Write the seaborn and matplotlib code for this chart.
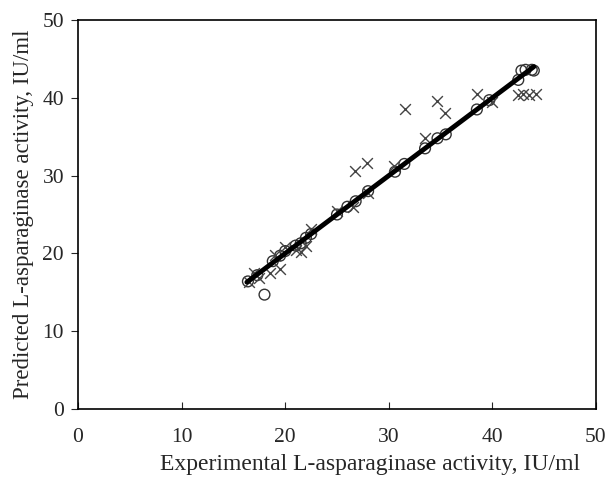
import numpy as np
import pandas as pd
import matplotlib.pyplot as plt
import seaborn as sns

# experimental vs predicted (circles: model 1, crosses: model 2)
circ_exp = [16.4, 17.3, 18.0, 18.8, 19.5, 20.0, 21.0, 21.5, 22.0, 22.5, 25.0, 26.0,
            26.8, 28.0, 30.6, 31.5, 33.5, 34.7, 35.5, 38.5, 39.7, 42.5, 42.8, 43.2,
            43.8, 44.0]
circ_pred = [16.4, 17.2, 14.7, 19.0, 19.7, 20.3, 21.0, 21.3, 22.0, 22.5, 25.0, 26.0,
             26.7, 28.0, 30.5, 31.5, 33.5, 34.8, 35.3, 38.5, 39.7, 42.3, 43.5, 43.6,
             43.6, 43.5]
cross_exp = [16.5, 17.0, 17.5, 18.5, 19.0, 19.5, 20.0, 21.0, 21.5, 22.0, 22.5, 25.0,
             26.5, 26.7, 27.9, 28.0, 30.5, 31.6, 33.5, 34.7, 35.4, 38.5, 40.0, 42.5,
             43.0, 43.5, 44.2]
cross_pred = [16.3, 17.5, 16.8, 17.5, 19.8, 18.0, 20.8, 20.5, 20.2, 21.0, 23.2, 25.5,
              26.0, 30.6, 31.6, 27.8, 31.2, 38.6, 34.8, 39.6, 38.0, 40.5, 39.5, 40.3,
              40.5, 40.4, 40.5]
line_x = [16.3, 44.0]

sns.set_style("ticks")
plt.rcParams['font.family'] = ['Liberation Serif', 'DejaVu Serif']

fig, ax = plt.subplots(figsize=(6.08, 4.8), dpi=100)

sns.lineplot(x=line_x, y=line_x, ax=ax, color="black", linewidth=3.5)
sns.scatterplot(x=circ_exp, y=circ_pred, ax=ax, marker="o", s=60,
                facecolor="none", edgecolor="#333333", linewidth=1)
sns.scatterplot(x=cross_exp, y=cross_pred, ax=ax, marker="x", s=60,
                color="#444444", linewidth=1)

ax.set_xlim(0, 50)
ax.set_ylim(0, 50)
ax.set_xticks(range(0, 51, 10))
ax.set_yticks(range(0, 51, 10))
ax.tick_params(axis="x", direction="in", length=5, labelsize=15.5, pad=14)
ax.tick_params(axis="y", direction="out", length=5, labelsize=15.5, pad=5)
for sp in ax.spines.values():
    sp.set_color("black")
    sp.set_linewidth(1.2)
    sp.set_visible(True)

ax.set_xlabel("Experimental L-asparaginase activity, IU/ml", fontsize=17)
ax.set_ylabel("Predicted L-asparaginase activity, IU/ml", fontsize=16.5, labelpad=6)
ax.xaxis.set_label_coords(0.563, -0.115)

fig.subplots_adjust(left=78/608, right=596/608, top=1 - 20/480, bottom=1 - 409/480)
fig.savefig("out.png", dpi=100)
